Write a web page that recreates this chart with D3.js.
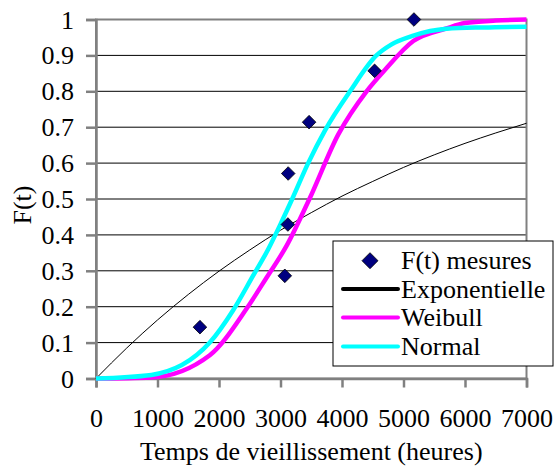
<!DOCTYPE html>
<html><head><meta charset="utf-8">
<script src="https://cdn.jsdelivr.net/npm/d3@7"></script>
<style>html,body{margin:0;padding:0;background:#fff;}svg{display:block;}
svg text{font-family:"Liberation Serif","Times New Roman","DejaVu Serif",serif;}</style>
</head><body>
<svg id="c" width="554" height="468"></svg>
<script>
// Measured points F(t)
const measTime = [1690, 3070, 3120, 3125, 3465, 4530, 5170];
const measF    = [0.143, 0.286, 0.429, 0.571, 0.714, 0.857, 1.0];
// Exponential fit
const expTime = [0,500,1000,1500,2000,2500,3000,3500,4000,4500,5000,5500,6000,6500,7000];
const expF    = [0,0.085,0.163,0.234,0.299,0.358,0.413,0.462,0.508,0.549,0.588,0.623,0.655,0.684,0.711];
// Weibull fit
const weiTime = [0,900,1850,2450,2770,3100,3470,3940,4400,4700,5160,5700,6000,6500,7000];
const weiF    = [0,0.003,0.065,0.195,0.28,0.37,0.50,0.68,0.80,0.86,0.94,0.975,0.99,0.997,1.0];
// Normal fit
const norTime = [0,900,1850,2230,2550,2800,3000,3190,3450,3720,4130,4560,4800,5160,5700,6300,7000];
const norF    = [0,0.01,0.10,0.19,0.285,0.36,0.43,0.50,0.60,0.69,0.80,0.90,0.93,0.955,0.974,0.978,0.98];
const xTicks = [0,1000,2000,3000,4000,5000,6000,7000];
const yTicks = [0,0.1,0.2,0.3,0.4,0.5,0.6,0.7,0.8,0.9,1];
const legendLabels = ["F(t) mesures","Exponentielle","Weibull","Normal"];
const xTitle = "Temps de vieillissement (heures)";
const yTitle = "F(t)";

const svg = d3.select("#c");
const L = 96, R = 526.5, T = 19.5, B = 378.5;
const x = d3.scaleLinear().domain([0,7000]).range([L,R]);
const y = d3.scaleLinear().domain([0,1]).range([B,T]);

// gridlines
svg.append("g").selectAll("line").data(yTicks.filter(v=>v>0 && v<1)).join("line")
  .attr("x1",L).attr("x2",R).attr("y1",d=>y(d)).attr("y2",d=>y(d))
  .attr("stroke","#000").attr("stroke-width",1);
// plot border (top/right)
svg.append("rect").attr("x",L).attr("y",T).attr("width",R-L).attr("height",B-T)
  .attr("fill","none").attr("stroke","#808080").attr("stroke-width",2);

// axes
const xa = svg.append("g").attr("transform",`translate(0,${B})`)
  .call(d3.axisBottom(x).tickValues(xTicks).tickSize(9).tickFormat(d3.format("d")));
const ya = svg.append("g").attr("transform",`translate(${L},0)`)
  .call(d3.axisLeft(y).tickValues(yTicks).tickSize(10).tickFormat(d=>d===0?"0":d===1?"1":d3.format(".1f")(d)));
[xa,ya].forEach(a=>{
  a.attr("font-family",null);
  a.select(".domain").attr("stroke","#808080").attr("stroke-width",2.5);
  a.selectAll(".tick line").attr("stroke","#808080").attr("stroke-width",2.5);
  a.selectAll("text").attr("font-size",26).attr("fill","#000");
});
xa.selectAll("text").attr("y",48).attr("dy",0);
ya.selectAll("text").attr("x",-22).attr("dy","0.33em");

// curves
const mk = () => d3.line().x(d=>x(d[0])).y(d=>y(d[1])).curve(d3.curveMonotoneX);
svg.append("path").datum(d3.zip(expTime,expF)).attr("d",mk())
  .attr("fill","none").attr("stroke","#000").attr("stroke-width",1);
svg.append("path").datum(d3.zip(weiTime,weiF)).attr("d",mk())
  .attr("fill","none").attr("stroke","#ff00ff").attr("stroke-width",4.5).attr("stroke-linejoin","round");
svg.append("path").datum(d3.zip(norTime,norF)).attr("d",mk())
  .attr("fill","none").attr("stroke","#00ffff").attr("stroke-width",4.5).attr("stroke-linejoin","round");

// points
const diamond = s => `M0,${-s}L${s},0L0,${s}L${-s},0Z`;
svg.append("g").selectAll("path").data(d3.zip(measTime,measF)).join("path")
  .attr("transform",d=>`translate(${x(d[0])},${y(d[1])})`)
  .attr("d",diamond(6.8)).attr("fill","#000080").attr("stroke","#000").attr("stroke-width",0.8);

// titles
svg.append("text").attr("x",(L+R)/2).attr("y",460).attr("text-anchor","middle")
  .attr("font-size",26).text(xTitle);
svg.append("text").attr("transform","translate(31,205) rotate(-90)").attr("text-anchor","middle")
  .attr("font-size",26).text(yTitle);

// legend
const lg = svg.append("g");
lg.append("rect").attr("x",333).attr("y",241).attr("width",220).attr("height",125)
  .attr("fill","#fff").attr("stroke","#000").attr("stroke-width",1);
const rowsY = [260.7, 289, 317.5, 346.5];
const legColors = [null,"#000","#ff00ff","#00ffff"];
legendLabels.forEach((lab,i)=>{
  if(i===0){
    lg.append("path").attr("transform",`translate(370,${rowsY[i]})`).attr("d",diamond(8))
      .attr("fill","#000080").attr("stroke","#000").attr("stroke-width",0.8);
  } else {
    lg.append("line").attr("x1",343).attr("x2",398).attr("y1",rowsY[i]).attr("y2",rowsY[i])
      .attr("stroke",legColors[i]).attr("stroke-width",4).attr("stroke-linecap","round");
  }
  lg.append("text").attr("x",401).attr("y",rowsY[i]).attr("dy","0.33em")
    .attr("font-size",26).text(lab);
});
</script>
</body></html>
